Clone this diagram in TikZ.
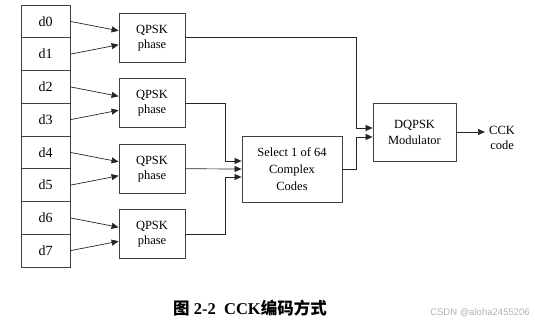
\documentclass[tikz,border=0pt]{standalone}
\usepackage{fontspec}
\setmainfont{Liberation Serif}
\setsansfont{Liberation Sans}
\newfontfamily\cjk{Noto Sans CJK SC}
\usetikzlibrary{arrows.meta,positioning}

\begin{document}
\begin{tikzpicture}[
  x=1pt, y=-1pt,
  font=\fontsize{12.5}{15}\selectfont,
  cell/.style={draw=black!75, line width=0.8pt, minimum width=49pt, minimum height=32.75pt, inner sep=0pt, font=\fontsize{14}{15}\selectfont},
  box/.style={draw=black!75, line width=0.8pt, align=center, inner sep=0pt, fill=white},
  qpsk/.style={box, minimum width=66pt, minimum height=49pt},
  arrow/.style={-{Triangle[length=7pt,width=6pt]}, line width=0.7pt, draw=black!85},
  note/.style={align=center}
]
\useasboundingbox (0,0) rectangle (535,327);

% data bits
\foreach \i in {0,...,7}
  \node[cell] (d\i) at (45.5, {21.4+32.75*\i}) {d\i};

% QPSK mappers
\foreach \k in {1,...,4}
  \node[qpsk] (q\k) at (152, {5+32.75*(2*\k-1)}) {QPSK\\phase};

\foreach \k/\a/\b in {1/0/1,2/2/3,3/4/5,4/6/7} {
  \draw[arrow] (d\a.east) -- ([yshift=7pt]q\k.west);
  \draw[arrow] (d\b.east) -- ([yshift=-7pt]q\k.west);
}

\node[box, minimum width=100pt, minimum height=66pt, font=\fontsize{12.5}{17}\selectfont] (select) at (292,169)
  {Select 1 of 64\\Complex\\Codes};
\node[box, minimum width=83pt, minimum height=58pt, font=\fontsize{12.5}{16}\selectfont] (dqpsk) at (414.5,132)
  {DQPSK\\Modulator};
\node[note, anchor=west, inner sep=4pt] (cck) at (485,138) {CCK\\code};

\coordinate (sin1) at ([yshift=8pt]select.west);
\coordinate (sin2) at ([yshift=-8pt]select.west);
\coordinate (din1) at ([yshift=4pt]dqpsk.west);
\coordinate (din2) at ([yshift=-5pt]dqpsk.west);

\draw[arrow] (q1.east) -| ([xshift=-16pt]din1) -- (din1);
\draw[arrow] (q2.east) -| ([xshift=-16pt]sin1) -- (sin1);
\draw[arrow] (q3.east) -- (select.west);
\draw[arrow] (q4.east) -| ([xshift=-16pt]sin2) -- (sin2);
\draw[arrow] (select.east) -| ([xshift=-16pt]din2) -- (din2);
\draw[arrow] (dqpsk.east) -- (dqpsk.east -| cck.west);

\node (caption) at (250,308)
  {\bfseries\fontsize{16.5}{18}\selectfont{\cjk 图} 2-2\ \ CCK{\cjk 编码方式}};
\node[text=black!30, font=\sffamily\fontsize{9.5}{10}\selectfont] (mark) at (480,313) {CSDN @aloha2455206};

\end{tikzpicture}
\end{document}
